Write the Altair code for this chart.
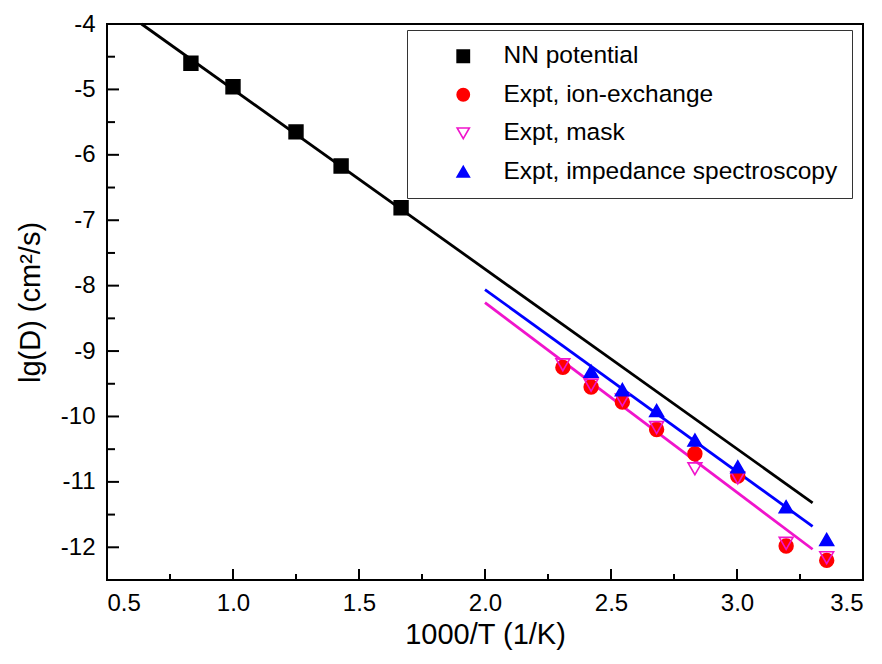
import altair as alt
import pandas as pd

# ---------------- data ----------------
series_names = ["NN potential", "Expt, ion-exchange", "Expt, mask", "Expt, impedance spectroscopy"]

nn_x = [0.833, 1.0, 1.25, 1.429, 1.667]
nn_y = [-4.60, -4.96, -5.65, -6.17, -6.81]

ion_x = [2.309, 2.421, 2.545, 2.681, 2.833, 3.003, 3.195, 3.356]
ion_y = [-9.25, -9.55, -9.78, -10.20, -10.57, -10.91, -11.98, -12.20]

mask_x = [2.309, 2.421, 2.545, 2.681, 2.833, 3.003, 3.195, 3.356]
mask_y = [-9.21, -9.52, -9.75, -10.17, -10.80, -10.94, -11.94, -12.16]

imp_x = [2.421, 2.545, 2.681, 2.833, 3.003, 3.195, 3.356]
imp_y = [-9.31, -9.59, -9.91, -10.36, -10.77, -11.38, -11.88]

# fitted lines (end points)
fit_names = ["NN fit", "impedance fit", "ion/mask fit"]
fit_colors = ["#000000", "#0000ff", "#f014cc"]
nn_fit_x = [0.637, 3.30]
nn_fit_y = [-4.00, -11.32]
imp_fit_x = [2.0, 3.30]
imp_fit_y = [-8.06, -11.68]
ion_fit_x = [2.0, 3.30]
ion_fit_y = [-8.26, -12.03]

x_major = [0.5, 1.0, 1.5, 2.0, 2.5, 3.0, 3.5]
x_minor = [0.75, 1.25, 1.75, 2.25, 2.75, 3.25]
y_major = [-12, -11, -10, -9, -8, -7, -6, -5, -4]
y_minor = [-12.5, -11.5, -10.5, -9.5, -8.5, -7.5, -6.5, -5.5, -4.5]

# ---------------- tables ----------------
pts = pd.concat([
    pd.DataFrame({"x": nn_x, "y": nn_y, "series": series_names[0]}),
    pd.DataFrame({"x": ion_x, "y": ion_y, "series": series_names[1]}),
    pd.DataFrame({"x": mask_x, "y": mask_y, "series": series_names[2]}),
    pd.DataFrame({"x": imp_x, "y": imp_y, "series": series_names[3]}),
], ignore_index=True)
pts["order"] = range(len(pts))

fits = pd.concat([
    pd.DataFrame({"x": nn_fit_x, "y": nn_fit_y, "fit": fit_names[0]}),
    pd.DataFrame({"x": imp_fit_x, "y": imp_fit_y, "fit": fit_names[1]}),
    pd.DataFrame({"x": ion_fit_x, "y": ion_fit_y, "fit": fit_names[2]}),
], ignore_index=True)

W, H = 756, 556
FONT = "Liberation Sans"

xscale = alt.Scale(domain=[0.5, 3.5], nice=False, zero=False)
yscale = alt.Scale(domain=[-12.5, -4], nice=False, zero=False)

xaxis = alt.Axis(values=x_major, format=".1f", ticks=False, tickSize=0, domain=False, grid=False,
                 labelFontSize=24, labelPadding=11, labelColor="black", labelFont=FONT,
                 title="1000/T (1/K)", titleFontSize=29, titleFont=FONT, titleFontWeight="normal",
                 titleColor="black", titleY=54, titleBaseline="middle")
yaxis = alt.Axis(values=y_major, labelExpr="toString(datum.value)", ticks=False, tickSize=0,
                 domain=False, grid=False,
                 labelFontSize=24, labelPadding=12, labelColor="black", labelFont=FONT,
                 title="lg(D) (cm²/s)", titleFontSize=29, titleFont=FONT, titleFontWeight="normal",
                 titleColor="black", titleX=-77, titleAngle=-90, titleAlign="center",
                 titleBaseline="middle")

lines = alt.Chart(fits).mark_line(strokeWidth=2.8).encode(
    x=alt.X("x:Q", scale=xscale, axis=xaxis),
    y=alt.Y("y:Q", scale=yscale, axis=yaxis),
    color=alt.Color("fit:N", scale=alt.Scale(domain=fit_names, range=fit_colors), legend=None),
    detail="fit:N",
)

def leg():
    return alt.Legend(title=None, orient="none", legendX=300, legendY=6, labelLimit=0)

points = alt.Chart(pts).mark_point(size=190, strokeWidth=1.6, opacity=1).encode(
    x=alt.X("x:Q", scale=xscale),
    y=alt.Y("y:Q", scale=yscale),
    shape=alt.Shape("series:N", scale=alt.Scale(domain=series_names,
                    range=["square", "circle", "triangle-down", "triangle-up"]), legend=leg()),
    fill=alt.Fill("series:N", scale=alt.Scale(domain=series_names,
                  range=["#000000", "#ff0000", "transparent", "#0000ff"]), legend=leg()),
    stroke=alt.Stroke("series:N", scale=alt.Scale(domain=series_names,
                      range=["#000000", "#ff0000", "#f014cc", "#0000ff"]), legend=leg()),
    order="order:Q",
)

xmaj = alt.Chart(pd.DataFrame({"v": x_major})).mark_rule(color="black", strokeWidth=2).encode(
    x=alt.X("v:Q", scale=xscale), y=alt.value(H), y2=alt.value(H - 11))
xmin = alt.Chart(pd.DataFrame({"v": x_minor})).mark_rule(color="black", strokeWidth=2).encode(
    x=alt.X("v:Q", scale=xscale), y=alt.value(H), y2=alt.value(H - 6))
ymaj = alt.Chart(pd.DataFrame({"v": y_major})).mark_rule(color="black", strokeWidth=2).encode(
    y=alt.Y("v:Q", scale=yscale), x=alt.value(0), x2=alt.value(12))
ymin = alt.Chart(pd.DataFrame({"v": y_minor})).mark_rule(color="black", strokeWidth=2).encode(
    y=alt.Y("v:Q", scale=yscale), x=alt.value(0), x2=alt.value(8))

chart = alt.layer(lines, points, xmaj, xmin, ymaj, ymin).properties(
    width=W, height=H,
    background="white",
    autosize=alt.AutoSizeParams(type="none"),
    padding={"left": 99, "top": 16, "right": 11, "bottom": 76},
).configure_view(
    stroke="black", strokeWidth=2,
).configure_legend(
    padding=14, strokeColor="#333333", strokeWidth=1, fillColor="white",
    labelFont=FONT, labelFontSize=24.5, labelColor="black", labelOffset=28,
    symbolSize=150, symbolStrokeWidth=1.6, symbolOffset=30, rowPadding=13.5,
)

chart.save("out.html", embed_options={"renderer": "svg", "actions": False})
